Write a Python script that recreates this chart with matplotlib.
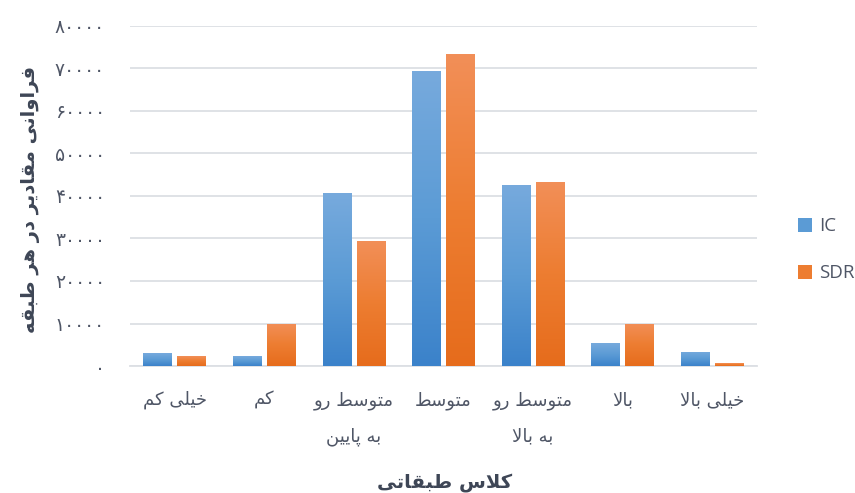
import numpy as np
import matplotlib
matplotlib.use("Agg")
import matplotlib.pyplot as plt
from matplotlib.colors import LinearSegmentedColormap
from matplotlib.patches import Patch

categories = ["خیلی کم", "کم", "متوسط رو\nبه پایین", "متوسط",
              "متوسط رو\nبه بالا", "بالا", "خیلی بالا"]
ic_values = [3000, 2300, 40700, 69300, 42600, 5400, 3300]
sdr_values = [2300, 10000, 29400, 73400, 43300, 10000, 700]
y_ticks = [0, 10000, 20000, 30000, 40000, 50000, 60000, 70000, 80000]
y_label = "فراوانی مقادیر در هر طبقه"
x_label = "کلاس طبقاتی"
series_names = ["IC", "SDR"]

# presentation forms: isolated, final, initial, medial
FORMS = {
    "ا": ("\uFE8D", "\uFE8E", None, None),
    "ب": ("\uFE8F", "\uFE90", "\uFE91", "\uFE92"),
    "پ": ("\uFB56", "\uFB57", "\uFB58", "\uFB59"),
    "ت": ("\uFE95", "\uFE96", "\uFE97", "\uFE98"),
    "خ": ("\uFEA5", "\uFEA6", "\uFEA7", "\uFEA8"),
    "د": ("\uFEA9", "\uFEAA", None, None),
    "ر": ("\uFEAD", "\uFEAE", None, None),
    "س": ("\uFEB1", "\uFEB2", "\uFEB3", "\uFEB4"),
    "ط": ("\uFEC1", "\uFEC2", "\uFEC3", "\uFEC4"),
    "ف": ("\uFED1", "\uFED2", "\uFED3", "\uFED4"),
    "ق": ("\uFED5", "\uFED6", "\uFED7", "\uFED8"),
    "ک": ("\uFB8E", "\uFB8F", "\uFB90", "\uFB91"),
    "ل": ("\uFEDD", "\uFEDE", "\uFEDF", "\uFEE0"),
    "م": ("\uFEE1", "\uFEE2", "\uFEE3", "\uFEE4"),
    "ن": ("\uFEE5", "\uFEE6", "\uFEE7", "\uFEE8"),
    "ه": ("\uFEE9", "\uFEEA", "\uFEEB", "\uFEEC"),
    "و": ("\uFEED", "\uFEEE", None, None),
    "ی": ("\uFBFC", "\uFBFD", "\uFBFE", "\uFBFF"),
}
DUAL = {k for k, v in FORMS.items() if v[2] is not None}


def shape_line(s):
    out = []
    i = 0
    n = len(s)
    while i < n:
        c = s[i]
        if c not in FORMS:
            out.append(c)
            i += 1
            continue
        prev = s[i - 1] if i > 0 else ""
        jp = prev in DUAL
        if c == "ل" and i + 1 < n and s[i + 1] == "ا":
            out.append("\uFEFC" if jp else "\uFEFB")
            i += 2
            continue
        nxt = s[i + 1] if i + 1 < n else ""
        jn = c in DUAL and nxt in FORMS
        iso, fin, ini, med = FORMS[c]
        if jp and jn:
            out.append(med)
        elif jp:
            out.append(fin)
        elif jn:
            out.append(ini)
        else:
            out.append(iso)
        i += 1
    return "".join(out)[::-1]


def fa(s):
    return "\n".join(shape_line(l) for l in s.split("\n"))


def fa_digits(v):
    return str(v).translate(str.maketrans("0123456789", "۰۱۲۳۴۵۶۷۸۹"))


plt.rcParams["font.family"] = ["DejaVu Sans"]
tick_col = "#4f5666"
title_col = "#3e4656"

fig = plt.figure(figsize=(8.55, 4.93), dpi=100)
ax = fig.add_axes([130 / 855, 1 - 366 / 493, 627 / 855, 340 / 493])

x = np.arange(len(categories))
w = 0.32
off = 0.19
ic_cmap = LinearSegmentedColormap.from_list("ic", ["#3b82ca", "#5b9bd5", "#77aadd"])
sdr_cmap = LinearSegmentedColormap.from_list("sdr", ["#e66c1c", "#ed7d31", "#f28f58"])
grad = np.linspace(0, 1, 256).reshape(-1, 1)

for vals, dx, cmap in [(ic_values, -off, ic_cmap), (sdr_values, off, sdr_cmap)]:
    bars = ax.bar(x + dx, vals, width=w, color="none", edgecolor="none", zorder=3)
    for b in bars:
        x0, y0 = b.get_xy()
        im = ax.imshow(grad, cmap=cmap, origin="lower", aspect="auto",
                       extent=(x0, x0 + b.get_width(), y0, y0 + b.get_height()),
                       zorder=3)
        im.set_clip_path(b)

ax.set_xlim(-0.5, len(categories) - 0.5)
ax.set_ylim(0, 80000)
ax.set_yticks(y_ticks)
ax.set_yticklabels([fa_digits(v) for v in y_ticks])
ax.set_xticks(x)
ax.set_xticklabels([fa(c) for c in categories], linespacing=2.25)
ax.tick_params(axis="both", length=0, colors=tick_col)
ax.tick_params(axis="x", pad=18, labelsize=13)
ax.tick_params(axis="y", pad=18, labelsize=13.5)
ax.grid(axis="y", color="#dcdfe4", linewidth=1.3, zorder=0)
for s in ["top", "right", "left"]:
    ax.spines[s].set_visible(False)
ax.spines["bottom"].set_color("#dcdfe4")
ax.spines["bottom"].set_linewidth(1.3)

ax.set_ylabel(fa(y_label), fontsize=14, fontweight="bold", color=title_col)
ax.yaxis.set_label_coords(-0.144, 0.49)
ax.text(0.502, -0.342, fa(x_label), transform=ax.transAxes, ha="center",
        va="center", fontsize=14, fontweight="bold", color=title_col)

handles = [Patch(facecolor="#5b9bd5"), Patch(facecolor="#ed7d31")]
leg = fig.legend(handles, series_names, loc="center left",
                 bbox_to_anchor=(0.918, 0.493), frameon=False,
                 handlelength=0.75, handleheight=0.75, handletextpad=0.35,
                 borderpad=0.2, labelspacing=1.55,
                 prop={"family": "Open Sans", "size": 13.5})
for t in leg.get_texts():
    t.set_color(tick_col)

fig.savefig("out.png", dpi=100)
